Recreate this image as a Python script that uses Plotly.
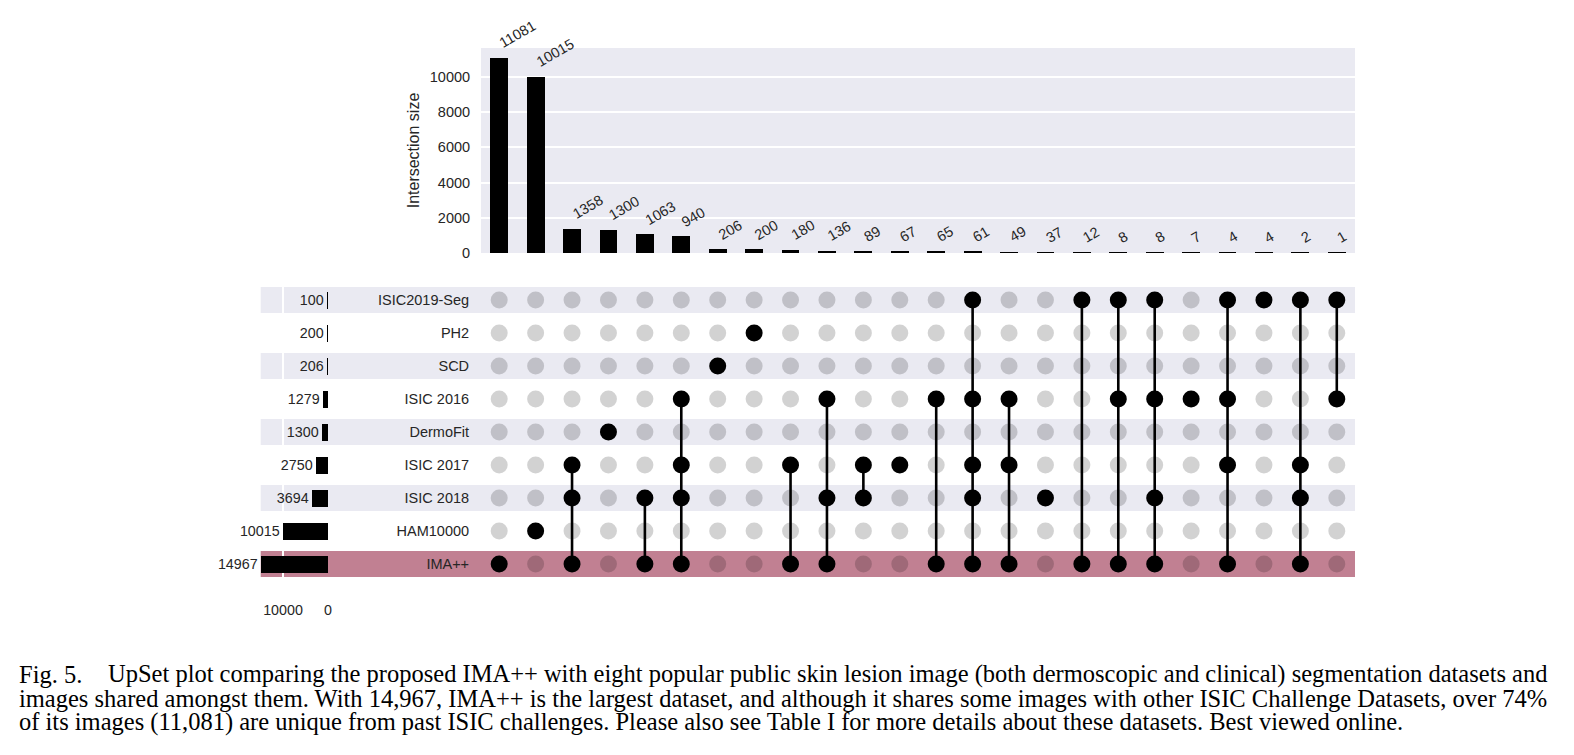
import plotly.graph_objects as go

W, H = 1574, 755

# ---------------- data ----------------
set_names = ["IMA++", "HAM10000", "ISIC 2018", "ISIC 2017", "DermoFit",
             "ISIC 2016", "SCD", "PH2", "ISIC2019-Seg"]          # bottom -> top
set_sizes = [14967, 10015, 3694, 2750, 1300, 1279, 206, 200, 100]

intersection_sizes = [11081, 10015, 1358, 1300, 1063, 940, 206, 200, 180, 136,
                      89, 67, 65, 61, 49, 37, 12, 8, 8, 7, 4, 4, 2, 1]
intersection_members = [
    ["IMA++"],
    ["HAM10000"],
    ["ISIC 2017", "ISIC 2018", "IMA++"],
    ["DermoFit"],
    ["ISIC 2018", "IMA++"],
    ["ISIC 2016", "ISIC 2017", "ISIC 2018", "IMA++"],
    ["SCD"],
    ["PH2"],
    ["ISIC 2017", "IMA++"],
    ["ISIC 2016", "ISIC 2018", "IMA++"],
    ["ISIC 2017", "ISIC 2018"],
    ["ISIC 2017"],
    ["ISIC 2016", "IMA++"],
    ["ISIC2019-Seg", "ISIC 2016", "ISIC 2017", "ISIC 2018", "IMA++"],
    ["ISIC 2016", "ISIC 2017", "IMA++"],
    ["ISIC 2018"],
    ["ISIC2019-Seg", "IMA++"],
    ["ISIC2019-Seg", "ISIC 2016", "IMA++"],
    ["ISIC2019-Seg", "ISIC 2016", "ISIC 2018", "IMA++"],
    ["ISIC 2016"],
    ["ISIC2019-Seg", "ISIC 2016", "ISIC 2017", "IMA++"],
    ["ISIC2019-Seg"],
    ["ISIC2019-Seg", "ISIC 2017", "ISIC 2018", "IMA++"],
    ["ISIC2019-Seg", "ISIC 2016"],
]
size_ticks = [0, 2000, 4000, 6000, 8000, 10000]
size_ticklabels = ["0", "2000", "4000", "6000", "8000", "10000"]
setsize_ticks = [10000, 0]
setsize_ticklabels = ["10000", "0"]

caption_lines = [
    "UpSet plot comparing the proposed IMA++ with eight popular public skin lesion image (both dermoscopic and clinical) segmentation datasets and",
    "images shared amongst them. With 14,967, IMA++ is the largest dataset, and although it shares some images with other ISIC Challenge Datasets, over 74%",
    "of its images (11,081) are unique from past ISIC challenges. Please also see Table I for more details about these datasets. Best viewed online.",
]
caption_label = "Fig. 5."

# ---------------- layout helpers ----------------
def px(x):
    return x / W

def py(y):
    return 1 - y / H

TXT = "#262626"
SANS = "Liberation Sans, Arial, sans-serif"
SERIF = "Liberation Serif, Times New Roman, serif"
GRID_BG = "#EAEAF2"
PINK = "#C18092"
CAP_SIZE = 24.5

ncol = len(intersection_sizes)
cols = list(range(ncol))
rows = list(range(len(set_names)))

x_main = [px(481), px(1355)]
y_top = [py(253), py(48)]
y_mat = [py(580.5), py(283.5)]
x_left = [px(260.7), px(328)]

fig = go.Figure()

# intersection bars
fig.add_trace(go.Bar(x=cols, y=intersection_sizes, width=0.49,
                     marker=dict(color="black", line=dict(width=0)),
                     xaxis="x", yaxis="y", hoverinfo="skip"))

# matrix
ix, iy, ax_, ay_ = [], [], [], []
lx, ly = [], []
for c, mem in enumerate(intersection_members):
    act = [set_names.index(m) for m in mem]
    for r in rows:
        if r in act:
            ax_.append(c); ay_.append(r)
        else:
            ix.append(c); iy.append(r)
    if len(act) > 1:
        lx += [c, c, None]
        ly += [min(act), max(act), None]

fig.add_trace(go.Scatter(x=ix, y=iy, mode="markers",
                         marker=dict(size=17, color="rgba(0,0,0,0.175)", line=dict(width=0)),
                         xaxis="x2", yaxis="y2", hoverinfo="skip"))
fig.add_trace(go.Scatter(x=lx, y=ly, mode="lines",
                         line=dict(color="black", width=2.6),
                         xaxis="x2", yaxis="y2", hoverinfo="skip"))
fig.add_trace(go.Scatter(x=ax_, y=ay_, mode="markers",
                         marker=dict(size=17, color="black", line=dict(width=0)),
                         xaxis="x2", yaxis="y2", hoverinfo="skip"))

# set size bars
fig.add_trace(go.Bar(x=set_sizes, y=rows, orientation="h", width=0.5,
                     marker=dict(color="black", line=dict(width=0)),
                     text=[str(v) for v in set_sizes], textposition="outside",
                     textfont=dict(family=SANS, size=14.3, color=TXT),
                     cliponaxis=False,
                     xaxis="x3", yaxis="y3", hoverinfo="skip"))

shapes = []
shapes.append(dict(type="rect", xref="paper", yref="paper",
                   x0=x_main[0], x1=x_main[1], y0=y_top[0], y1=y_top[1],
                   fillcolor=GRID_BG, line=dict(width=0), layer="below"))
for r in rows:
    if r % 2 == 0:
        shapes.append(dict(type="rect", xref="paper", yref="y2",
                           x0=x_left[0], x1=x_main[1], y0=r - 0.395, y1=r + 0.395,
                           fillcolor=PINK if r == 0 else GRID_BG,
                           line=dict(width=0), layer="below"))

annotations = []
for c, v in zip(cols, intersection_sizes):
    annotations.append(dict(x=c, y=v, xref="x", yref="y", text=str(v),
                            textangle=-30, showarrow=False,
                            xanchor="left", yanchor="bottom", xshift=-5, yshift=4,
                            font=dict(family=SANS, size=14.5, color=TXT)))

annotations.append(dict(x=px(17), y=py(674), xref="paper", yref="paper",
                        text=caption_label, showarrow=False,
                        xanchor="left", yanchor="middle",
                        font=dict(family=SERIF, size=CAP_SIZE, color="black")))
cap_x = [106, 17, 17]
cap_y = [674, 698, 722]
for t, xx, yy in zip(caption_lines, cap_x, cap_y):
    annotations.append(dict(x=px(xx), y=py(yy), xref="paper", yref="paper",
                            text=t, showarrow=False,
                            xanchor="left", yanchor="middle",
                            font=dict(family=SERIF, size=CAP_SIZE, color="black")))

fig.update_layout(
    template="none",
    width=W, height=H,
    margin=dict(l=0, r=0, t=0, b=0),
    paper_bgcolor="white",
    plot_bgcolor="rgba(0,0,0,0)",
    showlegend=False,
    bargap=0,
    font=dict(family=SANS, size=14.5, color=TXT),
    shapes=shapes,
    annotations=annotations,
    xaxis=dict(domain=x_main, range=[-0.5, ncol - 0.5], anchor="y",
               showticklabels=False, showgrid=False, zeroline=False,
               showline=False, ticks="", automargin=False),
    yaxis=dict(domain=y_top, range=[0, 11635], anchor="x",
               tickvals=size_ticks, ticktext=size_ticklabels,
               showgrid=True, gridcolor="white", gridwidth=1.5,
               zeroline=False, showline=False, ticks="outside", ticklen=7,
               tickcolor="rgba(0,0,0,0)", tickfont=dict(size=14.5),
               title=dict(text="Intersection size", font=dict(size=16), standoff=6),
               automargin=False),
    xaxis2=dict(domain=x_main, range=[-0.5, ncol - 0.5], anchor="y2",
                showticklabels=False, showgrid=False, zeroline=False,
                showline=False, ticks="", automargin=False),
    yaxis2=dict(domain=y_mat, range=[-0.5, len(set_names) - 0.5], anchor="x2",
                tickvals=rows, ticktext=set_names, showgrid=False, zeroline=False,
                showline=False, ticks="outside", ticklen=8, tickcolor="rgba(0,0,0,0)",
                tickfont=dict(size=14.5), automargin=False),
    xaxis3=dict(domain=x_left, range=[14967, 0], anchor="y3",
                tickvals=setsize_ticks, ticktext=setsize_ticklabels,
                showgrid=True, gridcolor="white", gridwidth=1.5,
                zeroline=False, showline=False, ticks="outside", ticklen=16,
                tickcolor="rgba(0,0,0,0)", tickfont=dict(size=14.3), automargin=False),
    yaxis3=dict(domain=y_mat, range=[-0.5, len(set_names) - 0.5], anchor="x3",
                showticklabels=False, showgrid=False, zeroline=False,
                showline=False, ticks="", automargin=False),
)

fig.write_html("out.html")
